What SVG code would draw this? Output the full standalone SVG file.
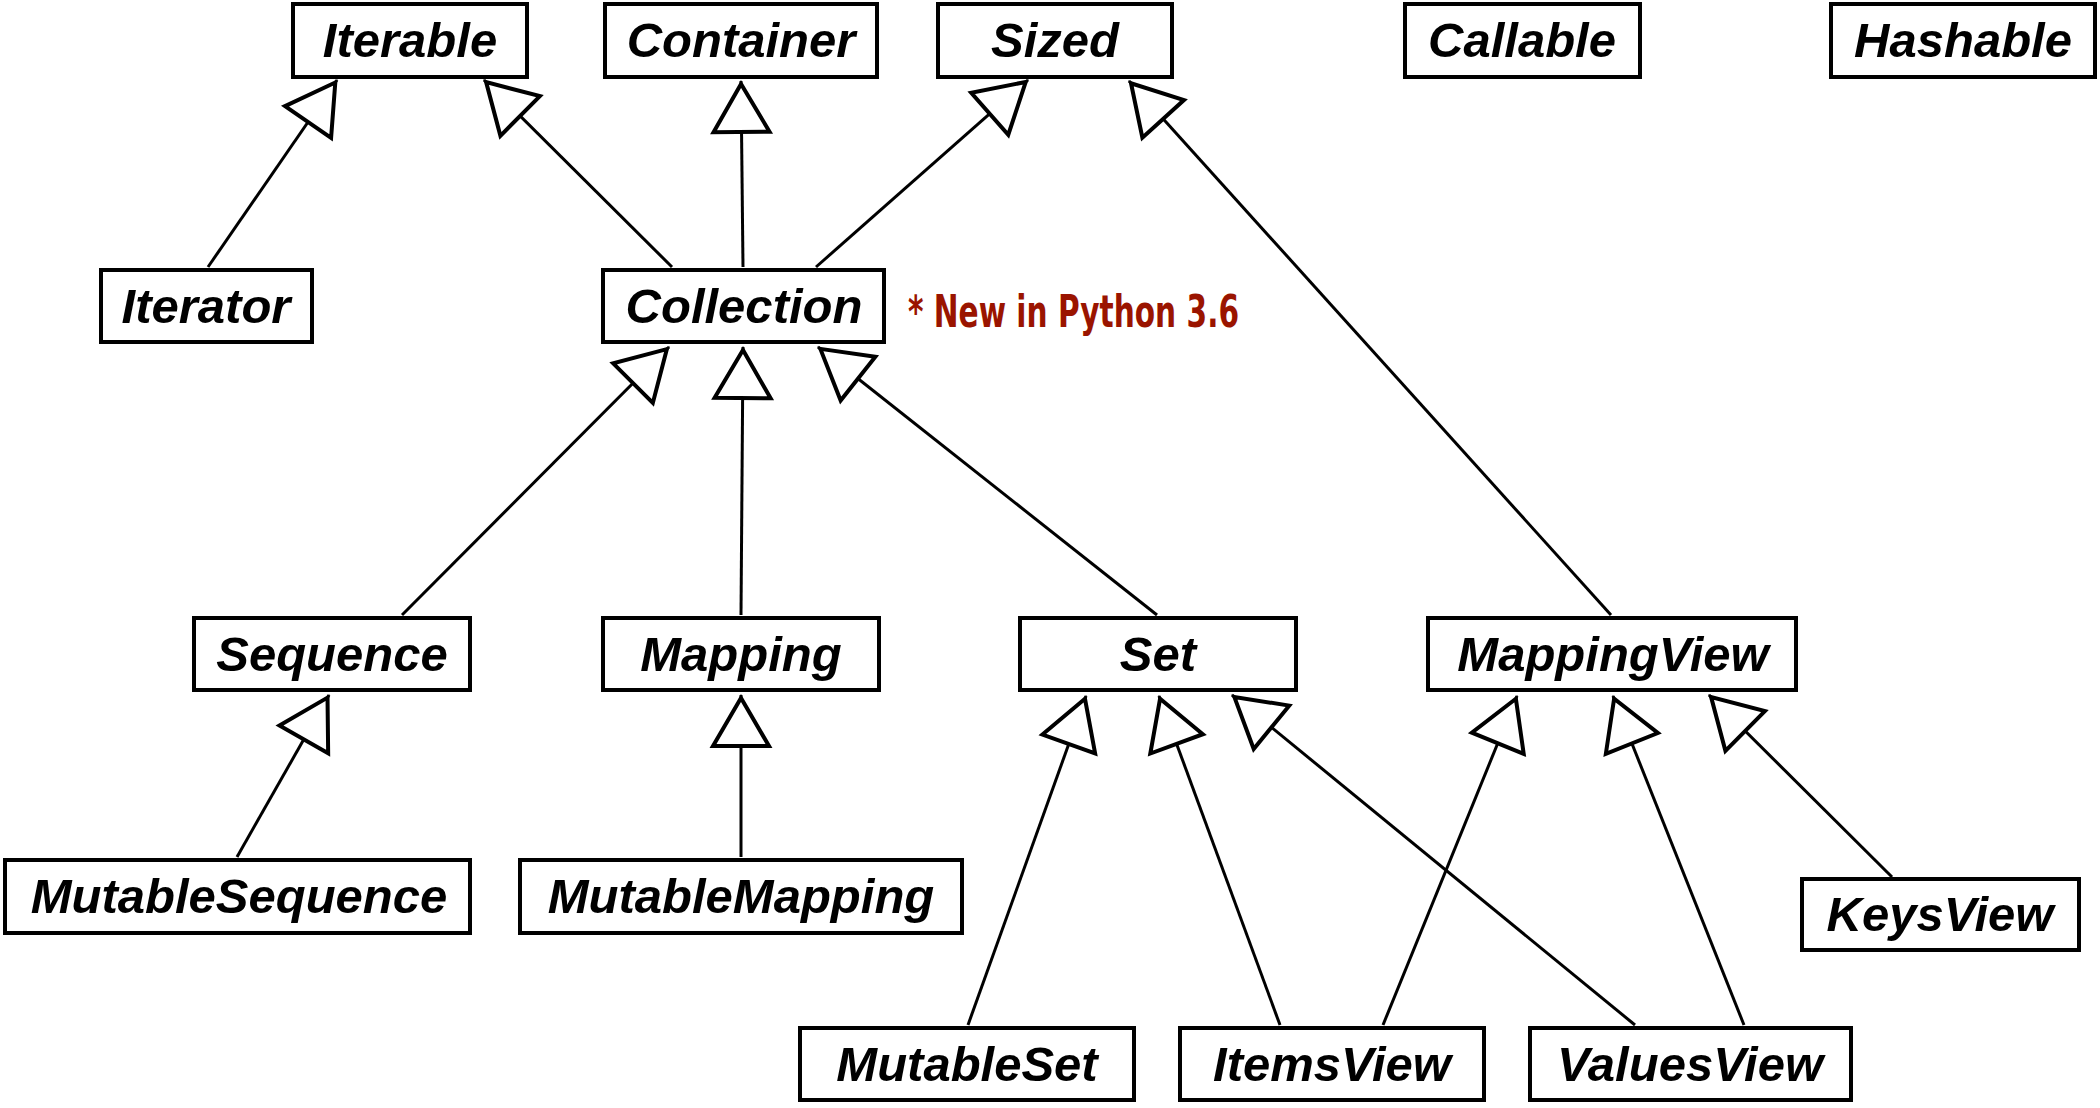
<svg xmlns="http://www.w3.org/2000/svg" width="2100" height="1108" viewBox="0 0 2100 1108">
<style>
.box{fill:#fff;stroke:#000;stroke-width:4}
.lbl{font-family:"Liberation Sans",Arial,sans-serif;font-weight:bold;font-style:italic;font-size:49px;text-anchor:middle;fill:#000}
.edge{stroke:#000;stroke-width:3;fill:none;marker-end:url(#tri)}
.note{font-family:"Liberation Sans Narrow","DejaVu Sans Condensed",sans-serif;font-weight:bold;font-size:44px;fill:#9a1400}
</style>
<defs>
<marker id="tri" markerUnits="userSpaceOnUse" viewBox="-60 -36 66 72" refX="0" refY="0" markerWidth="66" markerHeight="72" orient="auto">
<path d="M-3,0 L-51,-28 L-51,28 Z" fill="#fff" stroke="#000" stroke-width="4" stroke-linejoin="miter"/>
</marker>
</defs>
<rect width="2100" height="1108" fill="#fff"/>
<g id="connectors">
<line class="edge" x1="208" y1="267" x2="337" y2="80"/>
<line class="edge" x1="672" y1="267" x2="484" y2="80"/>
<line class="edge" x1="743" y1="267" x2="741" y2="81"/>
<line class="edge" x1="816" y1="267" x2="1028" y2="80"/>
<line class="edge" x1="1611" y1="615" x2="1129" y2="81"/>
<line class="edge" x1="402" y1="615" x2="669" y2="347"/>
<line class="edge" x1="741" y1="615" x2="743" y2="347"/>
<line class="edge" x1="1157" y1="615" x2="818" y2="347"/>
<line class="edge" x1="237" y1="857" x2="329" y2="695"/>
<line class="edge" x1="741" y1="857" x2="741" y2="695"/>
<line class="edge" x1="968" y1="1025" x2="1086" y2="696"/>
<line class="edge" x1="1280" y1="1025" x2="1159" y2="696"/>
<line class="edge" x1="1635" y1="1025" x2="1232" y2="695"/>
<line class="edge" x1="1383" y1="1025" x2="1517" y2="696"/>
<line class="edge" x1="1744" y1="1025" x2="1613" y2="696"/>
<line class="edge" x1="1892" y1="877" x2="1709" y2="695"/>
</g>
<g id="Iterable"><rect class="box" x="293" y="4" width="234" height="73"/><text class="lbl" x="410" y="57">Iterable</text></g>
<g id="Container"><rect class="box" x="605" y="4" width="272" height="73"/><text class="lbl" x="741" y="57">Container</text></g>
<g id="Sized"><rect class="box" x="938" y="4" width="234" height="73"/><text class="lbl" x="1055" y="57">Sized</text></g>
<g id="Callable"><rect class="box" x="1405" y="4" width="235" height="73"/><text class="lbl" x="1522" y="57">Callable</text></g>
<g id="Hashable"><rect class="box" x="1831" y="4" width="264" height="73"/><text class="lbl" x="1963" y="57">Hashable</text></g>
<g id="Iterator"><rect class="box" x="101" y="270" width="211" height="72"/><text class="lbl" x="206" y="323">Iterator</text></g>
<g id="Collection"><rect class="box" x="603" y="270" width="281" height="72"/><text class="lbl" x="744" y="323">Collection</text></g>
<g id="note"><text class="note" x="908" y="327" textLength="331" lengthAdjust="spacingAndGlyphs">* New in Python 3.6</text></g>
<g id="Sequence"><rect class="box" x="194" y="618" width="276" height="72"/><text class="lbl" x="332" y="671">Sequence</text></g>
<g id="Mapping"><rect class="box" x="603" y="618" width="276" height="72"/><text class="lbl" x="741" y="671">Mapping</text></g>
<g id="Set"><rect class="box" x="1020" y="618" width="276" height="72"/><text class="lbl" x="1158" y="671">Set</text></g>
<g id="MappingView"><rect class="box" x="1428" y="618" width="368" height="72"/><text class="lbl" x="1613" y="671">MappingView</text></g>
<g id="MutableSequence"><rect class="box" x="5" y="860" width="465" height="73"/><text class="lbl" x="239" y="913">MutableSequence</text></g>
<g id="MutableMapping"><rect class="box" x="520" y="860" width="442" height="73"/><text class="lbl" x="741" y="913">MutableMapping</text></g>
<g id="KeysView"><rect class="box" x="1802" y="879" width="277" height="71"/><text class="lbl" x="1940" y="931">KeysView</text></g>
<g id="MutableSet"><rect class="box" x="800" y="1028" width="334" height="72"/><text class="lbl" x="967" y="1081">MutableSet</text></g>
<g id="ItemsView"><rect class="box" x="1180" y="1028" width="304" height="72"/><text class="lbl" x="1332" y="1081">ItemsView</text></g>
<g id="ValuesView"><rect class="box" x="1530" y="1028" width="321" height="72"/><text class="lbl" x="1690" y="1081">ValuesView</text></g>
</svg>
